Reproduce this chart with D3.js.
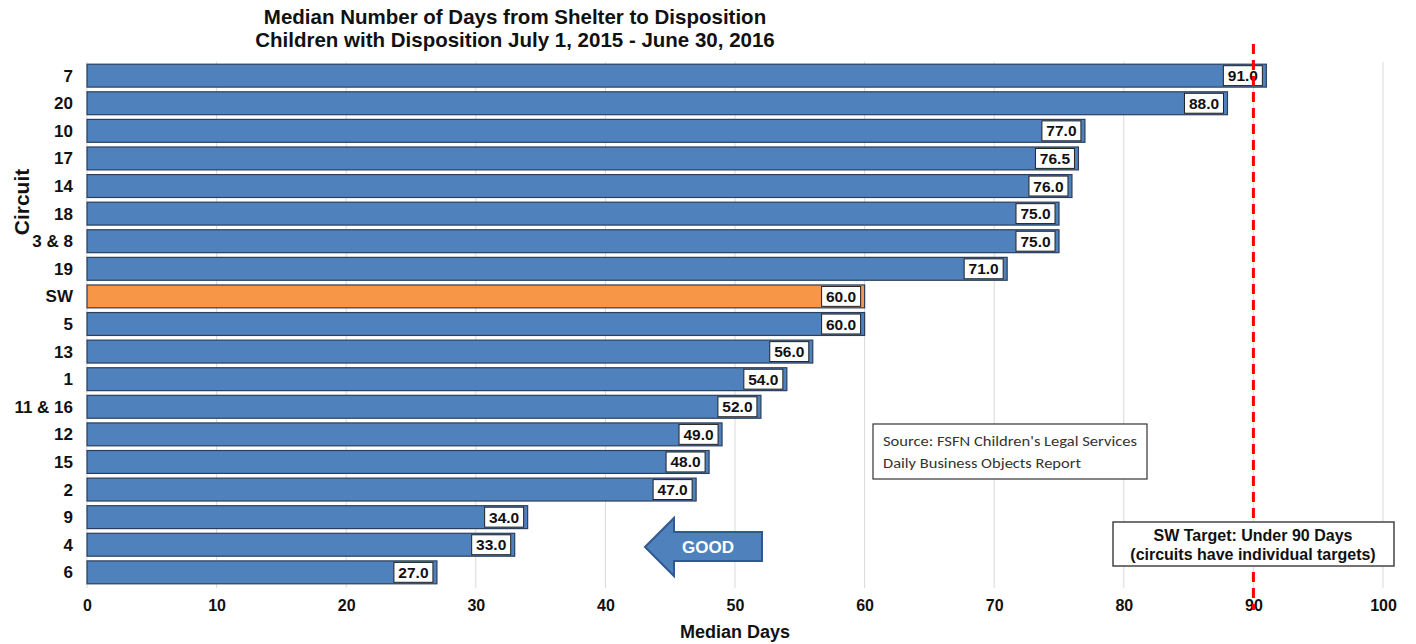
<!DOCTYPE html>
<html><head><meta charset="utf-8">
<script src="https://cdn.jsdelivr.net/npm/d3@7"></script>
<style>body{margin:0;background:#fff;} svg{display:block;font-family:"Liberation Sans",Arial,sans-serif;}</style>
</head><body>
<svg id="c" width="1416" height="644"></svg>
<script>
const circuits = ["7","20","10","17","14","18","3 & 8","19","SW","5","13","1","11 & 16","12","15","2","9","4","6"];
const medianDays = [91.0,88.0,77.0,76.5,76.0,75.0,75.0,71.0,60.0,60.0,56.0,54.0,52.0,49.0,48.0,47.0,34.0,33.0,27.0];
const xTicks = [0,10,20,30,40,50,60,70,80,90,100];
const targetValue = 90;
const titleLines = ["Median Number of Days from Shelter to Disposition","Children with Disposition July 1, 2015 - June 30, 2016"];

const svg = d3.select("#c");
const x = d3.scaleLinear().domain([0,100]).range([87,1383]);
const y = d3.scaleBand().domain(circuits).range([62,586]).paddingInner(0.17).paddingOuter(0.08);

// gridlines
svg.append("g").selectAll("line").data(xTicks).join("line")
  .attr("x1",d=>x(d)).attr("x2",d=>x(d)).attr("y1",62).attr("y2",588)
  .attr("stroke","#d9d9d9").attr("stroke-width",1);

// bars
const rows = circuits.map((c,i)=>({c, v:medianDays[i]}));
const g = svg.append("g");
g.selectAll("rect.bar").data(rows).join("rect").attr("class","bar")
  .attr("x",x(0)).attr("y",d=>y(d.c)).attr("width",d=>x(d.v)-x(0)).attr("height",y.bandwidth())
  .attr("fill",d=>d.c==="SW"?"#f79646":"#4f81bd").attr("stroke","#2b3f5c").attr("stroke-width",1.2);

// label boxes
const lw=39, lh=y.bandwidth()-3;
g.selectAll("rect.lab").data(rows).join("rect").attr("class","lab")
  .attr("x",d=>x(d.v)-4-lw).attr("y",d=>y(d.c)+1.5).attr("width",lw).attr("height",lh)
  .attr("fill","#fff").attr("stroke","#222").attr("stroke-width",1);
g.selectAll("text.lab").data(rows).join("text").attr("class","lab")
  .attr("x",d=>x(d.v)-4-lw/2).attr("y",d=>y(d.c)+y.bandwidth()/2+5.5)
  .attr("text-anchor","middle").attr("font-size",15.5).attr("font-weight","bold").attr("fill","#111")
  .text(d=>d.v.toFixed(1));

// y labels
svg.append("g").selectAll("text").data(circuits).join("text")
  .attr("x",73).attr("y",d=>y(d)+y.bandwidth()/2+6).attr("text-anchor","end")
  .attr("font-size",17).attr("font-weight","bold").attr("fill","#111").text(d=>d);

// x axis
const ax = svg.append("g").attr("transform","translate(0,597)").call(d3.axisBottom(x).tickValues(xTicks).tickSize(0).tickFormat(d3.format("d")));
ax.select(".domain").remove();
ax.selectAll("text").attr("font-size",16).attr("font-weight","bold").attr("fill","#111").attr("font-family","Liberation Sans, Arial, sans-serif").attr("dy","0.71em");

// target line
svg.append("line").attr("x1",x(targetValue)).attr("x2",x(targetValue)).attr("y1",44).attr("y2",610)
  .attr("stroke","#ff0000").attr("stroke-width",3).attr("stroke-dasharray","10,6");

// titles
svg.append("g").selectAll("text").data(titleLines).join("text")
  .attr("x",515).attr("y",(d,i)=>24+i*23).attr("text-anchor","middle")
  .attr("font-size",20.5).attr("font-weight","bold").attr("fill","#111").text(d=>d);

svg.append("text").attr("x",735).attr("y",638).attr("text-anchor","middle").attr("font-size",18).attr("font-weight","bold").attr("fill","#111").text("Median Days");
svg.append("text").attr("transform","translate(29,202) rotate(-90)").attr("text-anchor","middle").attr("font-size",21).attr("font-weight","bold").attr("fill","#111").text("Circuit");

// source box
svg.append("rect").attr("x",873).attr("y",424).attr("width",274).attr("height",55).attr("fill","#fff").attr("stroke","#333").attr("stroke-width",1.2);
svg.append("text").attr("x",883).attr("y",446).attr("font-size",15).attr("fill","#333").attr("font-family","Carlito, 'Open Sans', sans-serif").attr("textLength",254).attr("lengthAdjust","spacingAndGlyphs").text("Source: FSFN Children's Legal Services");
svg.append("text").attr("x",883).attr("y",468).attr("font-size",15).attr("fill","#333").attr("font-family","Carlito, 'Open Sans', sans-serif").attr("textLength",198).attr("lengthAdjust","spacingAndGlyphs").text("Daily Business Objects Report");

// target box
svg.append("rect").attr("x",1113).attr("y",522).attr("width",281).attr("height",44).attr("fill","#fff").attr("stroke","#444").attr("stroke-width",1.5);
svg.append("text").attr("x",1253).attr("y",541).attr("text-anchor","middle").attr("font-size",16).attr("font-weight","bold").attr("fill","#111").text("SW  Target: Under 90 Days");
svg.append("text").attr("x",1253).attr("y",560).attr("text-anchor","middle").attr("font-size",16).attr("font-weight","bold").attr("fill","#111").text("(circuits have individual targets)");

// GOOD arrow
svg.append("path").attr("d","M645,547 L674,518 L674,532 L762,532 L762,561 L674,561 L674,576 Z")
  .attr("fill","#4f81bd").attr("stroke","#2f5a8f").attr("stroke-width",2);
svg.append("text").attr("x",708).attr("y",553).attr("text-anchor","middle").attr("font-size",17).attr("font-weight","bold").attr("fill","#fff").text("GOOD");
</script>
</body></html>
